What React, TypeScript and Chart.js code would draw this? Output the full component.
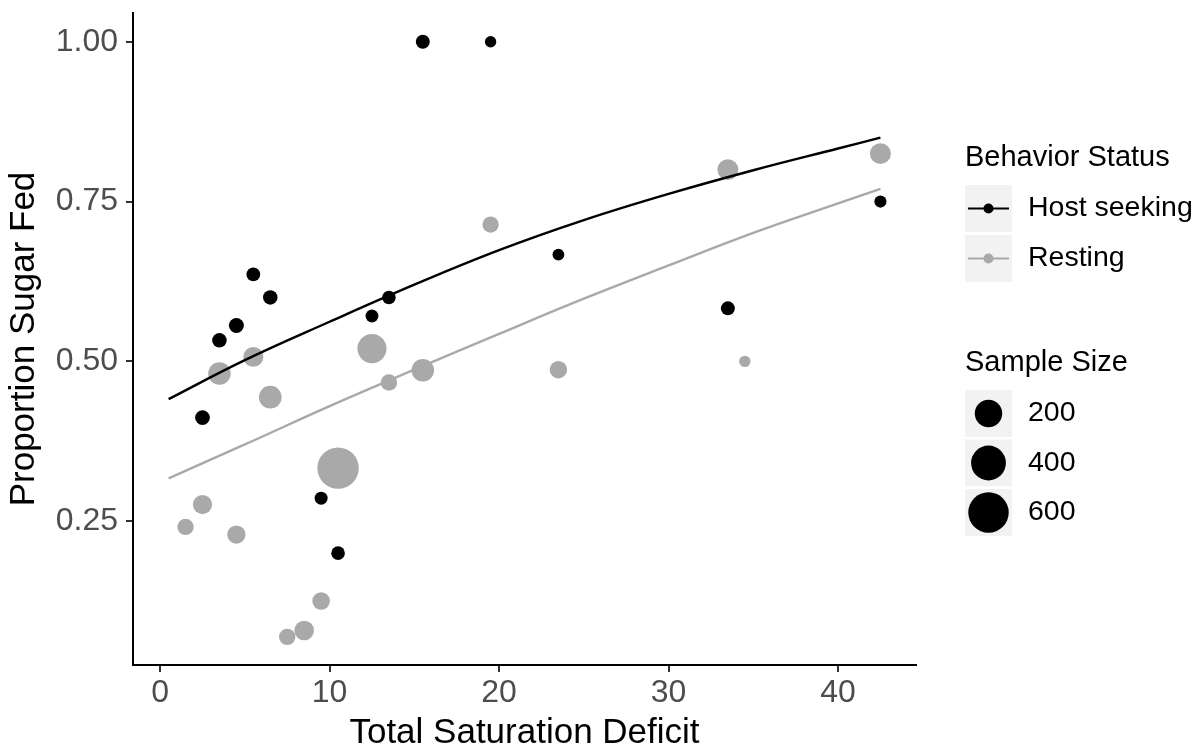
import React, { useEffect, useRef } from "react";
import { Chart, registerables } from "chart.js";

Chart.register(...registerables);

// ---- Data ----
const xTicks = [0, 10, 20, 30, 40];
const yTicks = [0.25, 0.5, 0.75, 1.0];

const hostX = [2.5, 3.5, 4.5, 5.5, 6.5, 9.5, 10.5, 12.5, 13.5, 15.5, 19.5, 23.5, 33.5, 42.5];
const hostY = [0.412, 0.533, 0.556, 0.636, 0.6, 0.286, 0.2, 0.571, 0.6, 1.0, 1.0, 0.667, 0.583, 0.75];
const hostN = [17, 15, 18, 11, 15, 7, 10, 7, 10, 12, 2, 3, 12, 4];

const restX = [1.5, 2.5, 3.5, 4.5, 5.5, 6.5, 7.5, 8.5, 9.5, 10.5, 12.5, 13.5, 15.5, 19.5, 23.5, 33.5, 34.5, 42.5];
const restY = [0.241, 0.276, 0.481, 0.229, 0.507, 0.444, 0.069, 0.079, 0.125, 0.333, 0.52, 0.467, 0.486, 0.714, 0.487, 0.8, 0.5, 0.825];
const restN = [29, 58, 104, 48, 67, 108, 29, 63, 40, 640, 240, 30, 105, 28, 39, 80, 2, 80];

const curveX = [0.5, 5, 10, 15, 20, 25, 30, 35, 40, 42.5];
const hostFit = [0.441, 0.502, 0.562, 0.62, 0.674, 0.721, 0.762, 0.799, 0.833, 0.85];
const restFit = [0.317, 0.37, 0.43, 0.487, 0.543, 0.598, 0.65, 0.701, 0.747, 0.77];

const statusLabels = ["Host seeking", "Resting"];
const sizeLegend = [200, 400, 600];

// ---- Style ----
const BLACK = "#000000";
const GRAY = "#A9A9A9";
const FONT = "'Liberation Sans', Arial, Helvetica, sans-serif";
const radiusFor = (n: number) => 4.8 + 0.63 * Math.sqrt(n);

const legendPlugin = {
  id: "customLegend",
  afterDraw(chart: any) {
    const ctx = chart.ctx as CanvasRenderingContext2D;
    ctx.save();
    ctx.textBaseline = "middle";
    ctx.textAlign = "left";
    ctx.fillStyle = "#000";
    ctx.font = `29px ${FONT}`;
    ctx.fillText("Behavior Status", 965, 158);

    const statusColors = [BLACK, GRAY];
    const rowY = [185, 235];
    statusLabels.forEach((lab, i) => {
      const y0 = rowY[i];
      ctx.fillStyle = "#F2F2F2";
      ctx.fillRect(965, y0, 47, 47);
      const cy = y0 + 23.5;
      ctx.strokeStyle = statusColors[i];
      ctx.lineWidth = 2.2;
      ctx.beginPath();
      ctx.moveTo(968, cy);
      ctx.lineTo(1009, cy);
      ctx.stroke();
      ctx.fillStyle = statusColors[i];
      ctx.beginPath();
      ctx.arc(988.5, cy, 5, 0, Math.PI * 2);
      ctx.fill();
      ctx.fillStyle = "#000";
      ctx.font = `28.5px ${FONT}`;
      ctx.fillText(lab, 1028, cy);
    });

    ctx.font = `29px ${FONT}`;
    ctx.fillStyle = "#000";
    ctx.fillText("Sample Size", 965, 363);
    const sizeY = [390, 439.5, 489];
    sizeLegend.forEach((n, i) => {
      const y0 = sizeY[i];
      ctx.fillStyle = "#F2F2F2";
      ctx.fillRect(965, y0, 47, 47);
      const cy = y0 + 23.5;
      ctx.fillStyle = "#000";
      ctx.beginPath();
      ctx.arc(988.5, cy, radiusFor(n), 0, Math.PI * 2);
      ctx.fill();
      ctx.font = `28.5px ${FONT}`;
      ctx.fillText(String(n), 1028, cy);
    });
    ctx.restore();
  },
};

export default function App() {
  const ref = useRef<HTMLCanvasElement | null>(null);

  useEffect(() => {
    if (!ref.current) return;
    const chart = new Chart(ref.current, {
      type: "scatter",
      data: {
        datasets: [
          {
            type: "line",
            label: "Host seeking fit",
            data: curveX.map((x, i) => ({ x, y: hostFit[i] })),
            borderColor: BLACK,
            borderWidth: 2.4,
            pointRadius: 0,
            fill: false,
            tension: 0.4,
          } as any,
          {
            type: "line",
            label: "Resting fit",
            data: curveX.map((x, i) => ({ x, y: restFit[i] })),
            borderColor: GRAY,
            borderWidth: 2.4,
            pointRadius: 0,
            fill: false,
            tension: 0.4,
          } as any,
          {
            label: "Host seeking",
            data: hostX.map((x, i) => ({ x, y: hostY[i] })),
            backgroundColor: BLACK,
            borderWidth: 0,
            pointRadius: hostN.map(radiusFor),
            pointHoverRadius: hostN.map(radiusFor),
          },
          {
            label: "Resting",
            data: restX.map((x, i) => ({ x, y: restY[i] })),
            backgroundColor: GRAY,
            borderWidth: 0,
            pointRadius: restN.map(radiusFor),
            pointHoverRadius: restN.map(radiusFor),
          },
        ],
      },
      options: {
        animation: false,
        responsive: true,
        maintainAspectRatio: false,
        layout: { autoPadding: false, padding: { left: 0, right: 284, top: 13, bottom: 0 } },
        plugins: {
          legend: { display: false },
          tooltip: { enabled: false },
        },
        scales: {
          x: {
            type: "linear",
            min: -1.6,
            max: 44.6,
            afterBuildTicks: (scale: any) => {
              scale.ticks = xTicks.map((v) => ({ value: v }));
            },
            afterFit: (scale: any) => {
              scale.height = 86;
              scale.paddingLeft = 0;
              scale.paddingRight = 0;
            },
            ticks: {
              color: "#4D4D4D",
              font: { family: FONT, size: 32 },
              padding: 2,
              maxRotation: 0,
              callback: (v: any) => String(v),
            },
            grid: {
              display: true,
              drawOnChartArea: false,
              drawTicks: true,
              tickLength: 7,
              color: "#333333",
              lineWidth: 2,
            },
            border: { display: true, color: "#000", width: 2 },
            title: {
              display: true,
              text: "Total Saturation Deficit",
              color: "#000",
              font: { family: FONT, size: 35 },
              padding: { top: 0, bottom: -3 },
            },
          },
          y: {
            type: "linear",
            min: 0.025,
            max: 1.045,
            afterBuildTicks: (scale: any) => {
              scale.ticks = yTicks.map((v) => ({ value: v }));
            },
            afterFit: (scale: any) => {
              scale.width = 133;
              scale.paddingTop = 0;
              scale.paddingBottom = 0;
            },
            ticks: {
              color: "#4D4D4D",
              font: { family: FONT, size: 32 },
              padding: 8,
              callback: (v: any) => Number(v).toFixed(2),
            },
            grid: {
              display: true,
              drawOnChartArea: false,
              drawTicks: true,
              tickLength: 7,
              color: "#333333",
              lineWidth: 2,
            },
            border: { display: true, color: "#000", width: 2 },
            title: {
              display: true,
              text: "Proportion Sugar Fed",
              color: "#000",
              font: { family: FONT, size: 35 },
              padding: { top: 3, bottom: 4 },
            },
          },
        },
      },
      plugins: [legendPlugin],
    });
    return () => chart.destroy();
  }, []);

  return (
    <div style={{ position: "fixed", left: 0, top: 0, width: 1200, height: 751, background: "#fff" }}>
      <canvas ref={ref} />
    </div>
  );
}
